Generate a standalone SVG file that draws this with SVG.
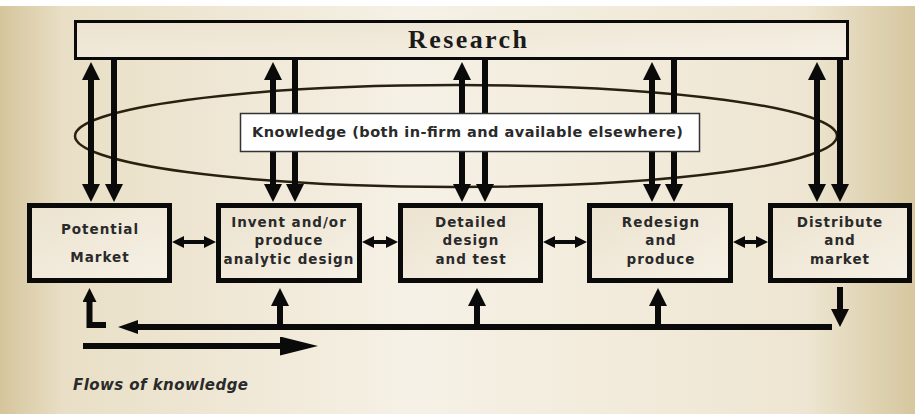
<svg xmlns="http://www.w3.org/2000/svg" width="915" height="414" viewBox="0 0 915 414">
<defs>
<linearGradient id="bg" x1="0" y1="0" x2="1" y2="0">
<stop offset="0" stop-color="#d5c59c"/>
<stop offset="0.07" stop-color="#e9dfc6"/>
<stop offset="0.45" stop-color="#f6f1e6"/>
<stop offset="0.88" stop-color="#eee6d2"/>
<stop offset="1" stop-color="#d6c79f"/>
</linearGradient>
<linearGradient id="boxfill" x1="0" y1="0" x2="1" y2="1">
<stop offset="0" stop-color="#ece3cf"/>
<stop offset="1" stop-color="#f6f1e6"/>
</linearGradient>
<marker id="big" viewBox="0 0 18 18" markerWidth="18" markerHeight="18" refX="4" refY="9" markerUnits="userSpaceOnUse" orient="auto-start-reverse"><path d="M0,0 L18,9 L0,18 z" fill="#0a0a0a"/></marker>
<marker id="mid" viewBox="0 0 20 14" markerWidth="20" markerHeight="14" refX="4" refY="7" markerUnits="userSpaceOnUse" orient="auto-start-reverse"><path d="M0,0 L20,7 L0,14 z" fill="#0a0a0a"/></marker>
<marker id="small" viewBox="0 0 14 14" markerWidth="14" markerHeight="14" refX="3" refY="7" markerUnits="userSpaceOnUse" orient="auto-start-reverse"><path d="M0,0 L14,7 L0,14 z" fill="#0a0a0a"/></marker>
<marker id="long" viewBox="0 0 38 19" markerWidth="38" markerHeight="19" refX="4" refY="9.5" markerUnits="userSpaceOnUse" orient="auto-start-reverse"><path d="M0,0 L38,9.5 L0,19 z" fill="#0a0a0a"/></marker>
<marker id="tiny" viewBox="0 0 12 12" markerWidth="12" markerHeight="12" refX="3" refY="6" markerUnits="userSpaceOnUse" orient="auto-start-reverse"><path d="M0,0 L12,6 L0,12 z" fill="#0a0a0a"/></marker>
</defs>
<style>
.box{fill:url(#boxfill);stroke:#0a0a0a;stroke-width:5}
.lbl{font-family:"DejaVu Sans",sans-serif;font-weight:bold;font-size:13.5px;fill:#2a2a2a;text-anchor:middle;letter-spacing:1px}
.v{stroke:#0a0a0a;stroke-width:6;fill:none}
.h{stroke:#0a0a0a;stroke-width:4;fill:none}
</style>
<rect x="0" y="0" width="915" height="414" fill="url(#bg)"/>
<rect x="0" y="0" width="915" height="6" fill="#ffffff"/>

<g id="research">
<rect x="75.5" y="21.5" width="772" height="37" fill="url(#boxfill)" stroke="#0a0a0a" stroke-width="3"/>
<text x="408" y="48" font-family="Liberation Serif, serif" font-weight="bold" font-size="26" fill="#1a1a1a" textLength="119" lengthAdjust="spacing">Research</text>
</g>

<g id="knowledge-ellipse">
<ellipse cx="456" cy="136" rx="381" ry="51" fill="none" stroke="#2a2010" stroke-width="2.5"/>
</g>

<g id="connectors">
<line class="v" x1="91" y1="76" x2="91" y2="188" marker-start="url(#big)" marker-end="url(#big)"/>
<line class="v" x1="114" y1="60" x2="114" y2="188" marker-end="url(#big)"/>
<line class="v" x1="273" y1="76" x2="273" y2="188" marker-start="url(#big)" marker-end="url(#big)"/>
<line class="v" x1="295" y1="60" x2="295" y2="188" marker-end="url(#big)"/>
<line class="v" x1="462" y1="76" x2="462" y2="188" marker-start="url(#big)" marker-end="url(#big)"/>
<line class="v" x1="485" y1="60" x2="485" y2="188" marker-end="url(#big)"/>
<line class="v" x1="652" y1="76" x2="652" y2="188" marker-start="url(#big)" marker-end="url(#big)"/>
<line class="v" x1="674" y1="60" x2="674" y2="188" marker-end="url(#big)"/>
<line class="v" x1="817" y1="76" x2="817" y2="188" marker-start="url(#big)" marker-end="url(#big)"/>
<line class="v" x1="840" y1="60" x2="840" y2="188" marker-end="url(#big)"/>
<line class="h" x1="181" y1="242" x2="207" y2="242" marker-start="url(#tiny)" marker-end="url(#tiny)"/>
<line class="h" x1="371" y1="242" x2="389" y2="242" marker-start="url(#tiny)" marker-end="url(#tiny)"/>
<line class="h" x1="552" y1="242" x2="578" y2="242" marker-start="url(#tiny)" marker-end="url(#tiny)"/>
<line class="h" x1="742" y1="242" x2="759" y2="242" marker-start="url(#tiny)" marker-end="url(#tiny)"/>
<line class="v" x1="832" y1="327" x2="134" y2="327" stroke-width="5" marker-end="url(#mid)"/>
<line class="v" x1="280" y1="327" x2="280" y2="302" marker-end="url(#big)"/>
<line class="v" x1="477" y1="327" x2="477" y2="302" marker-end="url(#big)"/>
<line class="v" x1="658" y1="327" x2="658" y2="302" marker-end="url(#big)"/>
<line class="v" x1="840" y1="287" x2="840" y2="313" marker-end="url(#big)"/>
<path class="v" d="M106,325 H89.5 V299" stroke-linejoin="miter" marker-end="url(#small)"/>
<line class="v" x1="83" y1="346" x2="284" y2="346" marker-end="url(#long)"/>
</g>

<g id="knowledge">
<rect x="240.5" y="113.5" width="459" height="38" fill="#ffffff" stroke="#333333" stroke-width="1.5"/>
<text x="252" y="137" font-family="DejaVu Sans, sans-serif" font-weight="bold" font-size="14.5" fill="#2a2a2a" textLength="431" lengthAdjust="spacing">Knowledge (both in-firm and available elsewhere)</text>
</g>

<g id="potential-market">
<rect class="box" x="29.5" y="205.5" width="140" height="75"/>
<text class="lbl" x="100" y="234">Potential</text>
<text class="lbl" x="100" y="262">Market</text>
</g>
<g id="invent">
<rect class="box" x="218.5" y="205.5" width="141" height="75"/>
<text class="lbl" x="289" y="227">Invent and/or</text>
<text class="lbl" x="289" y="245">produce</text>
<text class="lbl" x="289" y="264">analytic design</text>
</g>
<g id="detailed">
<rect class="box" x="400.5" y="205.5" width="140" height="75"/>
<text class="lbl" x="471" y="227">Detailed</text>
<text class="lbl" x="471" y="245">design</text>
<text class="lbl" x="471" y="264">and test</text>
</g>
<g id="redesign">
<rect class="box" x="589.5" y="205.5" width="141" height="75"/>
<text class="lbl" x="661" y="227">Redesign</text>
<text class="lbl" x="661" y="245">and</text>
<text class="lbl" x="661" y="264">produce</text>
</g>
<g id="distribute">
<rect class="box" x="770.5" y="205.5" width="139" height="75"/>
<text class="lbl" x="840" y="227">Distribute</text>
<text class="lbl" x="840" y="245">and</text>
<text class="lbl" x="840" y="264">market</text>
</g>

<text x="73" y="390" font-family="DejaVu Sans, sans-serif" font-style="italic" font-weight="bold" font-size="15" fill="#2a2a2a" textLength="175" lengthAdjust="spacing">Flows of knowledge</text>
</svg>
